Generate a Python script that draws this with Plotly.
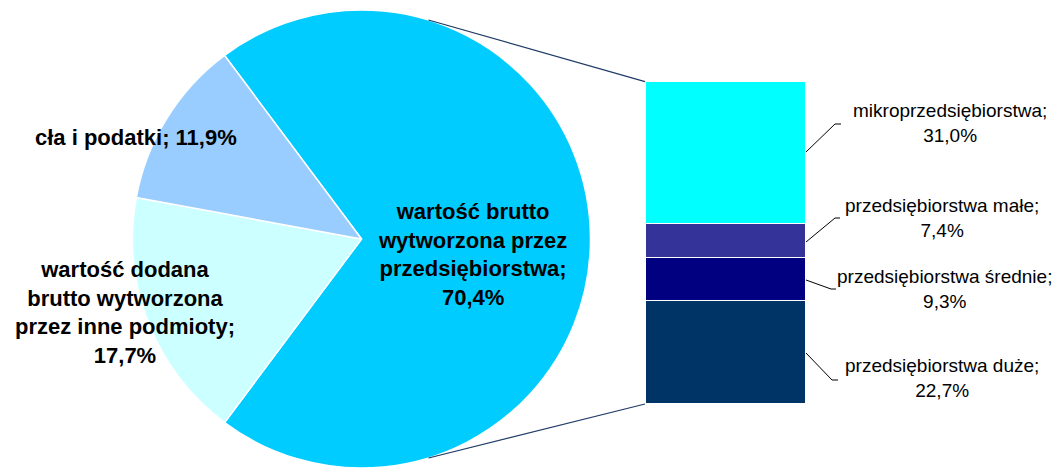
import math
import plotly.graph_objects as go

# pie: share of gross output
pie_labels = [
    "wartość brutto<br>wytworzona przez<br>przedsiębiorstwa;<br>70,4%",
    "wartość dodana<br>brutto wytworzona<br>przez inne podmioty;<br>17,7%",
    "cła i podatki; 11,9%",
]
pie_values = [70.4, 17.7, 11.9]
pie_colors = ["#00CCFF", "#CCFFFF", "#99CCFF"]

# bar: split of the enterprise part (bottom to top)
bar_labels = [
    "przedsiębiorstwa duże;<br>22,7%",
    "przedsiębiorstwa średnie;<br>9,3%",
    "przedsiębiorstwa małe;<br>7,4%",
    "mikroprzedsiębiorstwa;<br>31,0%",
]
bar_values = [22.7, 9.3, 7.4, 31.0]
bar_colors = ["#003366", "#000080", "#333399", "#00FFFF"]

# page has an 8px body margin, so the figure sits at (8, 8)
OFF = 8
W, H = 1062 - OFF, 468 - OFF
FONT = "Liberation Sans, Arial, sans-serif"


def px(x):
    return (x - OFF) / W


def py(y):
    return 1 - (y - OFF) / H


# pie geometry in screen pixels
cx, cy, r = 361.5, 239, 229
# bar geometry in screen pixels
bx0, bx1, by_top, by_bot = 645, 805, 81.7, 404

fig = go.Figure()

fig.add_trace(go.Pie(
    values=pie_values,
    labels=["a", "b", "c"],
    marker=dict(colors=pie_colors, line=dict(color="white", width=1.5)),
    sort=False,
    direction="clockwise",
    rotation=90 - pie_values[0] / sum(pie_values) * 180,
    textinfo="none",
    hoverinfo="skip",
    showlegend=False,
    domain=dict(x=[px(cx - r), px(cx + r)], y=[py(cy + r), py(cy - r)]),
))

for val, col, lab in zip(bar_values, bar_colors, bar_labels):
    fig.add_trace(go.Bar(
        x=[0], y=[val], width=1,
        marker=dict(color=col, line=dict(color="white", width=1)),
        name=lab, showlegend=False, hoverinfo="skip",
    ))

# pie labels
bold = dict(family=FONT, size=22, color="black")
fig.add_annotation(x=px(472), y=py(254), xref="paper", yref="paper",
                   xanchor="center", yanchor="middle",
                   text="<b>" + pie_labels[0] + "</b>", showarrow=False, font=bold)
fig.add_annotation(x=px(125), y=py(312), xref="paper", yref="paper",
                   xanchor="center", yanchor="middle",
                   text="<b>" + pie_labels[1] + "</b>", showarrow=False, font=bold)
fig.add_annotation(x=px(239), y=py(137), xref="paper", yref="paper",
                   xanchor="right", yanchor="middle",
                   text="<b>" + pie_labels[2] + "</b>", showarrow=False, font=bold)

# bar labels with leader lines: (label centre x, centre y, line start y, bend x, bend y, end x)
bar_label_pos = [
    (942, 378, 353, 832, 380, 838),
    (944, 289, 280, 831, 289, 836),
    (942, 218, 242, 835, 218, 840),
    (950, 123, 152, 835, 124, 841),
]
for lab, (lx, ly, sy, bxk, byk, ex) in zip(bar_labels, bar_label_pos):
    fig.add_annotation(x=px(lx), y=py(ly), xref="paper", yref="paper",
                       xanchor="center", yanchor="middle",
                       text=lab, showarrow=False,
                       font=dict(family=FONT, size=19, color="black"))
    fig.add_shape(type="path", xref="paper", yref="paper",
                  path=f"M {px(806)},{py(sy)} L {px(bxk)},{py(byk)} L {px(ex)},{py(byk)}",
                  line=dict(color="black", width=1))

# connector lines from pie to bar
a = math.radians(17)
for ang, ybar in [(a, by_top), (math.pi - a, by_bot)]:
    x0 = cx + r * math.sin(ang)
    y0 = cy - r * math.cos(ang)
    fig.add_shape(type="line", xref="paper", yref="paper",
                  x0=px(x0), y0=py(y0), x1=px(bx0), y1=py(ybar),
                  line=dict(color="#1F3B66", width=1.2))

fig.update_layout(
    width=W, height=H,
    margin=dict(l=0, r=0, t=0, b=0),
    paper_bgcolor="white", plot_bgcolor="white",
    barmode="stack",
    xaxis=dict(domain=[px(bx0), px(bx1)], range=[-0.5, 0.5], visible=False,
               fixedrange=True),
    yaxis=dict(domain=[py(by_bot), py(by_top)], range=[0, sum(bar_values)],
               visible=False, fixedrange=True),
    hovermode=False,
)

fig.write_html("out.html")
